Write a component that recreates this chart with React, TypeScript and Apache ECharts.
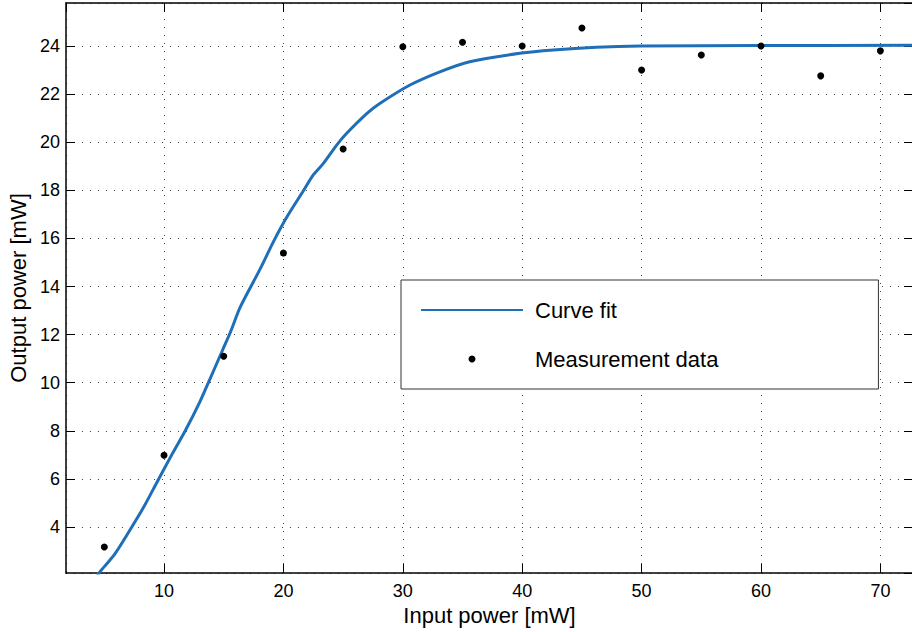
import React, { useEffect, useRef } from "react";
import * as echarts from "echarts";

const xMin = 1.79;
const xMax = 72.73;
const yMin = 2.086;
const yMax = 25.79;

const curveX = [4.4, 5.0, 5.9, 7.3, 8.3, 9.4, 10.7, 11.8, 13.0, 13.8, 14.9, 15.6, 16.4, 18.0, 19.2, 20.3, 21.7, 22.5, 23.35, 24.46, 25.3, 27.0, 28.1, 30.6, 33.1, 35.6, 39.8, 42.6, 46.2, 49.9, 60.0, 72.73];
const curveY = [2.0, 2.35, 2.89, 4.0, 4.83, 5.85, 7.05, 8.02, 9.2, 10.1, 11.35, 12.15, 13.16, 14.68, 15.9, 16.9, 18.0, 18.64, 19.12, 19.88, 20.37, 21.2, 21.62, 22.38, 22.93, 23.35, 23.7, 23.84, 23.95, 24.0, 24.02, 24.03];

const measX = [5, 10, 15, 20, 25, 30, 35, 40, 45, 50, 55, 60, 65, 70];
const measY = [3.17, 6.98, 11.1, 15.39, 19.72, 23.97, 24.16, 24.0, 24.75, 23.0, 23.63, 24.0, 22.76, 23.8];

const FONT = "Liberation Sans, Arial, Helvetica, sans-serif";

export default function App() {
  const ref = useRef<HTMLDivElement>(null);
  useEffect(() => {
    if (!ref.current) return;
    const chart = echarts.init(ref.current, null, { renderer: "svg" });
    const grid = { left: 66, top: 3, width: 847, height: 570, containLabel: false, outerBoundsMode: "none" };
    const axisLine = { show: true, lineStyle: { color: "#000", width: 1.5 } };
    const tick = { show: true, inside: true, length: 9, lineStyle: { color: "#000", width: 1 } };
    const split = { show: true, lineStyle: { color: "#444", width: 1, type: [1, 7] as any } };
    chart.setOption({
      animation: false,
      backgroundColor: "#fff",
      grid,
      xAxis: [
        {
          type: "value",
          min: xMin,
          max: xMax,
          minInterval: 10,
          maxInterval: 10,
          position: "bottom",
          axisLine,
          axisTick: tick,
          splitLine: split,
          axisLabel: { show: true, showMinLabel: false, showMaxLabel: false, color: "#000", fontSize: 18, fontFamily: FONT, margin: 9 },
          name: "Input power [mW]",
          nameLocation: "middle",
          nameGap: 26,
          nameTextStyle: { color: "#000", fontSize: 22, fontFamily: FONT },
        },
        {
          type: "value",
          min: xMin,
          max: xMax,
          minInterval: 10,
          maxInterval: 10,
          position: "top",
          axisLine,
          axisTick: tick,
          splitLine: { show: false },
          axisLabel: { show: false },
        },
      ],
      yAxis: [
        {
          type: "value",
          min: yMin,
          max: yMax,
          minInterval: 2,
          maxInterval: 2,
          position: "left",
          axisLine,
          axisTick: tick,
          splitLine: split,
          axisLabel: { show: true, showMinLabel: false, showMaxLabel: false, color: "#000", fontSize: 18, fontFamily: FONT, margin: 6 },
          name: "Output power [mW]",
          nameLocation: "middle",
          nameGap: 35,
          nameRotate: 90,
          nameTextStyle: { color: "#000", fontSize: 22, fontFamily: FONT },
        },
        {
          type: "value",
          min: yMin,
          max: yMax,
          minInterval: 2,
          maxInterval: 2,
          position: "right",
          axisLine,
          axisTick: tick,
          splitLine: { show: false },
          axisLabel: { show: false },
        },
      ],
      legend: {
        orient: "vertical",
        left: 401,
        top: 280,
        padding: [19, 160, 19, 19],
        itemGap: 27,
        itemWidth: 102,
        itemHeight: 7,
        borderColor: "#333",
        borderWidth: 1,
        backgroundColor: "#fff",
        textStyle: { color: "#000", fontSize: 22, fontFamily: FONT, padding: [0, 0, 0, 7] },
        data: [
          { name: "Curve fit", itemStyle: { color: "rgba(0,0,0,0)", borderWidth: 0, opacity: 0 } },
          { name: "Measurement data" },
        ],
      },
      series: [
        {
          name: "Curve fit",
          type: "line",
          xAxisIndex: 0,
          yAxisIndex: 0,
          data: curveX.map((x, i) => [x, curveY[i]]),
          symbol: "none",
          showSymbol: false,
          smooth: 0.3,
          lineStyle: { color: "#1f6fb8", width: 3 },
          itemStyle: { color: "#1f6fb8" },
          clip: true,
          z: 3,
        },
        {
          name: "Measurement data",
          type: "scatter",
          xAxisIndex: 0,
          yAxisIndex: 0,
          data: measX.map((x, i) => [x, measY[i]]),
          symbol: "circle",
          symbolSize: 7,
          itemStyle: { color: "#000", opacity: 1 },
          z: 4,
        },
      ],
    });
    return () => chart.dispose();
  }, []);
  return (
    <div
      ref={ref}
      style={{ position: "fixed", left: 0, top: 0, width: 912, height: 632, background: "#fff" }}
    />
  );
}
